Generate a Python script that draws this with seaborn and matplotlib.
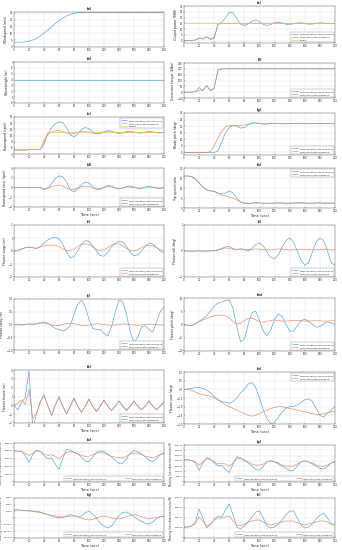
import matplotlib
matplotlib.use("Agg")
import matplotlib.pyplot as plt
import seaborn as sns

time = list(range(0, 205, 5))

# (a) wind / (b) wave
wind_speed = [3.5, 3.5, 3.5, 3.7, 4.2, 5.1, 6.4, 8.1, 10.1, 12.3, 14.6, 17.0, 19.2, 21.0, 22.6, 23.8,
              24.6, 25.0, 25.1, 25.1, 25.1, 25.1, 25.1, 25.1, 25.1, 25.1, 25.1, 25.1, 25.1, 25.1, 25.1,
              25.1, 25.1, 25.1, 25.1, 25.1, 25.1, 25.1, 25.1, 25.1, 25.1]
wave_height = [4.0] * 41

# (c) rotorspeed
rotor_without = [5.3, 5.3, 5.3, 5.3, 5.4, 5.4, 5.4, 5.5, 7.0, 10.5, 12.5, 13.8, 14.4, 14.2, 12.5, 10.2,
                 9.6, 10.5, 12.0, 12.6, 12.2, 11.2, 10.5, 10.6, 11.2, 11.6, 11.4, 10.9, 10.7, 10.9, 11.3,
                 11.4, 11.1, 10.8, 10.8, 11.1, 11.3, 11.2, 10.9, 10.8, 11.0]
rotor_with = [5.3, 5.3, 5.3, 5.3, 5.4, 5.4, 5.4, 5.5, 8.0, 10.2, 11.2, 11.5, 11.6, 11.3, 10.8, 10.5,
              10.6, 11.0, 11.3, 11.3, 11.1, 10.8, 10.7, 10.8, 11.0, 11.2, 11.1, 10.9, 10.8, 10.9, 11.1,
              11.1, 11.0, 10.9, 10.9, 11.0, 11.1, 11.0, 10.9, 10.9, 11.0]
rotor_target = [5.3, 5.3, 5.3, 5.3, 5.4, 5.4, 5.4, 5.5, 8.5, 11.0, 11.0, 11.0, 11.0, 11.0, 11.0, 11.0,
                11.0, 11.0, 11.0, 11.0, 11.0, 11.0, 11.0, 11.0, 11.0, 11.0, 11.0, 11.0, 11.0, 11.0, 11.0,
                11.0, 11.0, 11.0, 11.0, 11.0, 11.0, 11.0, 11.0, 11.0, 11.0]

# (d) rotorspeed error
err_without = [0, 0, 0, 0, 0, 0, 0, 0, -0.4, -0.2, 0.8, 1.8, 2.4, 2.2, 1.2, -0.5, -0.9, -0.3, 0.6, 1.1,
               0.9, 0.2, -0.4, -0.4, 0.1, 0.4, 0.3, -0.1, -0.3, -0.1, 0.2, 0.3, 0.1, -0.2, -0.2, 0.1,
               0.2, 0.1, -0.1, -0.2, 0]
err_with = [0, 0, 0, 0, 0, 0, 0, 0, -0.3, -0.1, 0.2, 0.4, 0.5, 0.3, -0.1, -0.4, -0.4, -0.1, 0.2, 0.3,
            0.2, -0.1, -0.3, -0.2, 0, 0.2, 0.1, -0.1, -0.2, -0.1, 0.1, 0.1, 0, -0.1, -0.1, 0, 0.1, 0,
            -0.1, -0.1, 0]

# (e) output power
power_without = [0.2, 0.2, 0.3, 0.6, 2.5, 1.5, 3.5, 1.0, 2.0, 14.0, 16.0, 20.0, 24.5, 24.0, 19.0, 14.5,
                 13.0, 14.5, 17.0, 18.0, 16.5, 14.0, 13.2, 14.0, 15.5, 16.0, 15.2, 14.2, 14.0, 14.6,
                 15.3, 15.4, 14.8, 14.3, 14.4, 15.0, 15.4, 15.2, 14.7, 14.6, 14.9]
power_with = [0.2, 0.2, 0.3, 0.5, 1.8, 1.5, 3.2, 1.5, 3.0, 14.0, 15.0, 15.0, 15.0, 15.0, 14.8, 14.6,
              14.5, 14.8, 15.1, 15.2, 15.0, 14.7, 14.6, 14.8, 15.1, 15.2, 15.0, 14.8, 14.8, 14.9, 15.1,
              15.1, 15.0, 14.9, 14.9, 15.0, 15.1, 15.0, 14.9, 14.9, 15.0]
power_target = [15.0] * 41

# (f) generator torque
torque_without = [0, 0, 1, 5, 40, 15, 60, 10, 30, 190, 200] + [200] * 30
torque_with = [0, 0, 1, 4, 18, 15, 55, 15, 40, 190, 200] + [200] * 30

# (g) blade pitch
pitch_without = [0, 0, 0, 0, 0, 0, 0, 0, 0, 1.0, 8.0, 15.0, 19.0, 20.5, 20.0, 18.5, 19.0, 21.0, 22.5,
                 22.5, 22.0, 21.5, 21.5, 22.0, 22.3, 22.2, 21.8, 21.7, 21.9, 22.2, 22.2, 22.0, 21.8,
                 21.8, 22.0, 22.2, 22.1, 21.9, 21.8, 22.0, 22.1]
pitch_with = [0, 0, 0, 0, 0, 0, 0, 0.5, 5.0, 11.0, 16.0, 19.5, 20.3, 20.5, 20.5, 20.6, 21.0, 21.6, 22.0,
              22.0, 21.9, 21.8, 21.8, 21.9, 22.0, 22.0, 21.9, 21.8, 21.9, 22.0, 22.0, 21.9, 21.9, 21.9,
              22.0, 22.0, 22.0, 21.9, 21.9, 22.0, 22.0]

# (h) tip speed ratio
tsr_without = [16.0, 16.0, 15.8, 14.5, 12.5, 10.5, 9.0, 8.5, 8.5, 7.5, 7.0, 7.5, 8.5, 7.5, 5.0, 3.0,
               2.3, 2.2, 2.5, 2.7, 2.6, 2.3, 2.2, 2.3, 2.5, 2.6, 2.5, 2.4, 2.4, 2.5, 2.6, 2.6, 2.5, 2.4,
               2.4, 2.5, 2.6, 2.5, 2.5, 2.4, 2.5]
tsr_with = [16.0, 16.0, 15.8, 14.5, 12.5, 10.5, 9.0, 8.5, 8.3, 7.2, 6.5, 6.0, 5.5, 4.8, 4.0, 3.0, 2.5,
            2.4, 2.4, 2.5, 2.5, 2.5, 2.4, 2.4, 2.5, 2.5, 2.5, 2.4, 2.4, 2.5, 2.5, 2.5, 2.4, 2.4, 2.5,
            2.5, 2.5, 2.4, 2.4, 2.5, 2.5]

# (i) floater surge
surge_without = [0, 0.05, 0.15, 0.25, 0.3, 0.25, 0.2, 0.35, 0.6, 0.85, 1.0, 1.05, 0.95, 0.5, -0.1, -0.5,
                 -0.45, 0, 0.5, 0.8, 0.75, 0.4, 0, -0.35, -0.4, -0.1, 0.3, 0.6, 0.75, 0.7, 0.35, -0.1,
                 -0.35, -0.3, 0, 0.35, 0.6, 0.55, 0.3, 0, -0.15]
surge_with = [0, 0.05, 0.15, 0.25, 0.3, 0.25, 0.2, 0.3, 0.4, 0.45, 0.45, 0.45, 0.35, 0.15, 0.05, 0.05,
              0.15, 0.35, 0.5, 0.55, 0.5, 0.3, 0.1, 0.05, 0.1, 0.25, 0.45, 0.55, 0.55, 0.4, 0.2, 0.05,
              0, 0.1, 0.25, 0.4, 0.45, 0.4, 0.25, 0.1, 0]

# (j) floater sway
sway_without = [0, 0, -0.02, 0, 0.02, 0, 0.03, 0.08, 0.1, 0.05, -0.05, -0.15, -0.2, -0.25, -0.2, -0.05,
                0.4, 0.8, 0.95, 0.7, 0.2, -0.15, -0.2, -0.2, -0.35, -0.45, -0.1, 0.5, 0.95, 0.9, 0.4,
                -0.3, -0.7, -0.5, -0.1, -0.05, -0.2, -0.3, 0.1, 0.5, 0.7]
sway_with = [0, 0, 0, 0.01, 0.02, 0.02, 0.03, 0.05, 0.06, 0.03, -0.02, -0.05, -0.04, 0, 0.04, 0.05,
             0.03, 0, -0.03, -0.04, -0.02, 0.01, 0.03, 0.02, 0, -0.02, -0.03, -0.02, 0, 0.02, 0.02, 0,
             -0.02, -0.03, -0.02, 0, 0.01, 0.01, -0.01, -0.02, -0.02]

# (k) floater heave
heave_without = [0, -0.5, 0.3, 0.9, 3.9, -2.6, -1.0, 0.4, 1.2, 0, -1.2, 0, 1.0, -0.1, -1.0, -0.1, 0.8,
                 -0.1, -0.8, -0.1, 0.7, -0.1, -0.7, -0.1, 0.6, -0.1, -0.6, -0.1, 0.5, -0.1, -0.6, -0.1,
                 0.5, -0.1, -0.5, -0.1, 0.5, -0.1, -0.5, -0.1, 0.4]
heave_with = [0, 0.2, 0.6, 0.1, 1.8, -1.5, -0.9, 0.4, 1.1, 0, -1.1, 0, 0.9, -0.1, -0.9, -0.1, 0.8, -0.1,
              -0.8, -0.1, 0.7, -0.1, -0.7, -0.1, 0.6, -0.1, -0.6, -0.1, 0.5, -0.1, -0.5, -0.1, 0.5,
              -0.1, -0.5, -0.1, 0.5, -0.1, -0.5, -0.1, 0.4]

# (l) floater roll
roll_without = [0, 0, -0.01, 0, 0.01, 0, 0, 0.01, 0.02, 0.05, 0.1, 0.16, 0.17, 0.1, 0.05, 0.08, 0.05, 0,
                0.1, 0.25, 0.3, 0.2, -0.05, -0.25, -0.3, -0.15, 0.15, 0.4, 0.5, 0.35, 0, -0.35, -0.55,
                -0.45, -0.05, 0.35, 0.5, 0.4, 0, -0.45, -0.55]
roll_with = [0, 0, 0, 0, 0, 0, 0, 0, 0, 0.03, 0.08, 0.12, 0.1, 0.06, 0.07, 0.08, 0.06, 0.05, 0.06,
             0.08, 0.07, 0.05, 0.04, 0.05, 0.07, 0.08, 0.07, 0.05, 0.04, 0.05, 0.06, 0.07, 0.06, 0.05,
             0.04, 0.05, 0.06, 0.06, 0.05, 0.04, 0.05]

# (m) floater pitch
fpitch_without = [0, -0.3, -0.5, 0.3, 1.2, 2.2, 3.2, 5.0, 7.0, 8.0, 8.5, 9.0, 9.3, 6.0, -1.0, -6.5,
                  -5.5, 0, 4.5, 5.0, 1.5, -2.5, -4.2, -2.0, 2.0, 4.0, 3.0, 0, -2.5, -2.5, -0.5, 1.5, 2.0,
                  1.2, 0, -1.0, -0.8, 0.3, 1.0, 0.6, 0]
fpitch_with = [0, -0.3, -0.4, 0.3, 1.0, 1.7, 2.2, 2.8, 3.3, 3.5, 3.5, 3.3, 2.5, 1.0, 0.2, 0.5, 1.5, 2.3,
               2.4, 1.8, 1.0, 0.8, 1.1, 1.6, 1.7, 1.5, 1.3, 1.3, 1.4, 1.5, 1.5, 1.4, 1.3, 1.3, 1.4, 1.4,
               1.4, 1.3, 1.3, 1.4, 1.4]

# (n) floater yaw
yaw_without = [0, 0.02, 0.05, 0.1, 0.1, 0.05, -0.05, -0.2, -0.4, -0.6, -0.7, -0.75, -0.8, -0.7, -0.5,
               -0.2, 0.0, 0.3, 0.4, 0.1, -0.5, -1.2, -1.7, -2.0, -1.9, -1.6, -1.3, -1.1, -1.0, -1.0,
               -0.9, -0.75, -0.6, -0.55, -0.7, -1.1, -1.5, -1.6, -1.4, -1.2, -1.0]
yaw_with = [0, 0, -0.05, -0.15, -0.25, -0.3, -0.35, -0.4, -0.5, -0.6, -0.75, -0.9, -1.0, -1.1, -1.2,
            -1.3, -1.4, -1.5, -1.55, -1.5, -1.4, -1.3, -1.2, -1.1, -1.05, -1.0, -1.0, -1.05, -1.1,
            -1.15, -1.2, -1.25, -1.3, -1.35, -1.4, -1.45, -1.45, -1.4, -1.35, -1.3, -1.25]

# (o) mooring line x-direction tension, (p), (q), (r)
moor_o_without = [4.0e5, 3.95e5, 3.9e5, 3.4e5, 2.5e5, 3.5e5, 4.1e5, 3.9e5, 3.4e5, 3.0e5, 3.1e5, 2.3e5,
                  1.6e5, 3.0e5, 4.2e5, 4.1e5, 3.8e5, 3.6e5, 3.2e5, 2.7e5, 2.6e5, 3.2e5, 3.8e5, 4.0e5,
                  3.9e5, 3.6e5, 3.2e5, 2.8e5, 2.4e5, 2.4e5, 3.0e5, 3.7e5, 4.0e5, 3.9e5, 3.6e5, 3.2e5,
                  2.8e5, 2.6e5, 3.0e5, 3.5e5, 3.8e5]
moor_o_with = [4.0e5, 3.95e5, 3.9e5, 3.7e5, 3.4e5, 3.7e5, 4.0e5, 3.9e5, 3.6e5, 3.4e5, 3.5e5, 3.3e5,
               3.0e5, 3.4e5, 3.8e5, 3.9e5, 3.8e5, 3.6e5, 3.4e5, 3.3e5, 3.3e5, 3.5e5, 3.7e5, 3.8e5,
               3.7e5, 3.5e5, 3.3e5, 3.2e5, 3.1e5, 3.1e5, 3.3e5, 3.6e5, 3.7e5, 3.7e5, 3.5e5, 3.3e5,
               3.2e5, 3.1e5, 3.3e5, 3.5e5, 3.6e5]
moor_q_without = [1.2e4, 1.2e4, 1.15e4, 1.1e4, 1.1e4, 1.05e4, 1.0e4, 0.9e4, 0.7e4, 0.5e4, 0.3e4,
                  0.1e4, 0.0, 0.1e4, 0.3e4, 0.5e4, 0.4e4, 0.2e4, 0.3e4, 0.8e4, 1.0e4, 0.6e4, 0.0,
                  -0.8e4, -1.2e4, -1.5e4, -1.2e4, -0.4e4, 0.4e4, 0.8e4, 0.9e4, 0.6e4, 0.2e4, -0.2e4,
                  -0.5e4, -0.8e4, -0.9e4, -0.6e4, -0.1e4, 0.2e4, 0.3e4]
moor_q_with = [1.2e4, 1.2e4, 1.15e4, 1.1e4, 1.05e4, 1.0e4, 0.9e4, 0.8e4, 0.7e4, 0.55e4, 0.4e4, 0.3e4,
               0.2e4, 0.15e4, 0.2e4, 0.3e4, 0.3e4, 0.2e4, 0.0, -0.2e4, -0.3e4, -0.2e4, 0.0, 0.2e4,
               0.3e4, 0.2e4, 0.0, -0.1e4, -0.1e4, 0.0, 0.2e4, 0.4e4, 0.5e4, 0.4e4, 0.2e4, 0.0, -0.1e4,
               0.0, 0.1e4, 0.2e4, 0.2e4]
moor_p_without = [2.1e5, 2.1e5, 2.05e5, 1.8e5, 1.1e5, 1.8e5, 2.3e5, 2.2e5, 1.8e5, 1.5e5, 1.6e5, 1.2e5,
                  0.9e5, 1.7e5, 2.4e5, 2.3e5, 2.0e5, 1.8e5, 1.5e5, 1.2e5, 1.1e5, 1.5e5, 1.9e5, 2.0e5,
                  1.9e5, 1.7e5, 1.5e5, 1.3e5, 1.1e5, 1.1e5, 1.5e5, 1.9e5, 2.0e5, 1.9e5, 1.7e5, 1.5e5,
                  1.3e5, 1.2e5, 1.5e5, 1.8e5, 1.9e5]
moor_p_with = [2.1e5, 2.1e5, 2.05e5, 1.9e5, 1.6e5, 1.9e5, 2.2e5, 2.1e5, 1.9e5, 1.7e5, 1.8e5, 1.7e5,
               1.5e5, 1.8e5, 2.2e5, 2.2e5, 2.1e5, 1.9e5, 1.7e5, 1.6e5, 1.6e5, 1.7e5, 1.9e5, 2.0e5,
               1.9e5, 1.8e5, 1.6e5, 1.5e5, 1.5e5, 1.5e5, 1.7e5, 1.9e5, 2.0e5, 1.9e5, 1.8e5, 1.6e5,
               1.5e5, 1.5e5, 1.6e5, 1.8e5, 1.9e5]
moor_r_without = [1.1e5, 1.1e5, 1.2e5, 1.6e5, 2.9e5, 2.0e5, 1.0e5, 1.3e5, 1.9e5, 2.2e5, 2.1e5, 2.8e5,
                  3.4e5, 2.3e5, 1.1e5, 0.9e5, 1.2e5, 1.6e5, 2.1e5, 2.6e5, 2.7e5, 2.0e5, 1.2e5, 1.0e5,
                  1.1e5, 1.4e5, 1.8e5, 2.3e5, 2.7e5, 2.7e5, 2.0e5, 1.3e5, 1.0e5, 1.1e5, 1.4e5, 1.9e5,
                  2.3e5, 2.5e5, 2.0e5, 1.4e5, 1.2e5]
moor_r_with = [1.1e5, 1.1e5, 1.2e5, 1.4e5, 2.1e5, 1.7e5, 1.2e5, 1.4e5, 1.8e5, 2.0e5, 2.0e5, 2.1e5,
               2.2e5, 1.7e5, 1.3e5, 1.2e5, 1.4e5, 1.6e5, 1.7e5, 1.8e5, 1.8e5, 1.6e5, 1.4e5, 1.3e5,
               1.4e5, 1.5e5, 1.6e5, 1.7e5, 1.7e5, 1.7e5, 1.5e5, 1.4e5, 1.3e5, 1.4e5, 1.5e5, 1.6e5,
               1.7e5, 1.7e5, 1.6e5, 1.4e5, 1.4e5]

lab_wo = 'Without pitch/rate feedback'
lab_w = 'With pitch/rate feedback'
blue, red, yellow = '#4ea3dc', '#e6875f', '#e9c05a'

sns.set_theme(style='whitegrid', rc={
    'axes.edgecolor': '#666666', 'axes.linewidth': 0.35, 'grid.color': '#e2e2e2',
    'grid.linewidth': 0.3, 'xtick.direction': 'in', 'ytick.direction': 'in',
    'xtick.major.size': 1.0, 'ytick.major.size': 1.0, 'xtick.major.width': 0.3,
    'ytick.major.width': 0.3, 'xtick.bottom': True, 'ytick.left': True,
    'xtick.major.pad': 0.8, 'ytick.major.pad': 0.8})
plt.rcParams['font.family'] = ['DejaVu Sans']

fig = plt.figure(figsize=(3.42, 5.50), dpi=100)

LX, LW = 14 / 342, 150 / 342
RX, RW = 184 / 342, 151 / 342


def rect(col, top, bot):
    x0, w = (LX, LW) if col == 0 else (RX, RW)
    return [x0, 1 - bot / 550, w, (bot - top) / 550]


def panel(pos, title, ylabel, lines, ylim, yticks, loc=None, ncol=1, xlabel=False, long_label=False):
    ax = fig.add_axes(pos)
    for vals, col, lab in lines:
        sns.lineplot(x=time, y=vals, ax=ax, color=col, linewidth=0.45, label=lab, legend=False)
    ax.set_xlim(0, 200)
    ax.set_xticks(range(0, 201, 20))
    ax.set_ylim(*ylim)
    ax.set_yticks(yticks)
    ax.tick_params(labelsize=1.9, colors='#333333')
    ax.tick_params(axis='y', labelsize=1.6 if long_label else 1.9)
    ax.set_title(title, fontsize=2.3, fontweight='bold', pad=1.5)
    if long_label:
        ax.set_ylabel(ylabel, fontsize=1.8)
        ax.yaxis.set_label_coords(-0.072, 0.5)
    else:
        ax.set_ylabel(ylabel, fontsize=2.3, labelpad=1.5)
    if xlabel:
        ax.set_xlabel('Time (sec)', fontsize=2.6, labelpad=0.8)
    if loc:
        leg = ax.legend(loc=loc, ncol=ncol, fontsize=1.7, handlelength=2.5, borderpad=0.5,
                        labelspacing=0.4, columnspacing=8, frameon=True, fancybox=False)
        leg.get_frame().set_linewidth(0.3)
        leg.get_frame().set_edgecolor('#777777')
    return ax


two = lambda a, b: [(a, blue, lab_wo), (b, red, lab_w)]

panel(rect(0, 12, 47), '(a)', 'Windspeed (m/s)', [(wind_speed, blue, None)], (0, 25.5), range(0, 26, 5))
panel(rect(0, 62, 103), '(b)', 'Waveheight (m)', [(wave_height, blue, None)], (0, 7), range(0, 8))
panel(rect(0, 117, 154), '(c)', 'Rotorspeed (rpm)',
      two(rotor_without, rotor_with) + [(rotor_target, yellow, 'Target')],
      (4, 16), range(4, 17, 2), loc='upper right')
panel(rect(0, 168, 207), '(d)', 'Rotorspeed error (rpm)', two(err_without, err_with),
      (-4, 4), range(-4, 5, 2), loc='lower right', xlabel=True)
panel(rect(0, 225, 277), '(i)', 'Floater surge (m)', two(surge_without, surge_with),
      (-2, 2), range(-2, 3), loc='lower right')
panel(rect(0, 299, 350), '(j)', 'Floater sway (m)', two(sway_without, sway_with),
      (-1, 1), [-1, -0.5, 0, 0.5, 1], loc='lower right')
panel(rect(0, 370, 423), '(k)', 'Floater heave (m)', two(heave_without, heave_with),
      (-2, 4), range(-2, 5), loc='lower right', xlabel=True)
panel(rect(0, 443, 482), '(o)', 'Mooring line x-direction tension (N)', two(moor_o_without, moor_o_with),
      (0, 5e5), range(0, 500001, 100000), loc='lower right', ncol=2, xlabel=True, long_label=True)
panel(rect(0, 498, 538), '(q)', 'Mooring line y-direction tension (N)', two(moor_q_without, moor_q_with),
      (-3e4, 3e4), range(-30000, 30001, 10000), loc='lower right', ncol=2, xlabel=True, long_label=True)

panel(rect(1, 6, 43), '(e)', 'Output power (MW)',
      two(power_without, power_with) + [(power_target, yellow, 'Target')],
      (-2, 30), range(0, 31, 5), loc='lower right')
panel(rect(1, 63, 98), '(f)', 'Generator torque (kNm)', two(torque_without, torque_with),
      (-50, 250), range(-50, 251, 50), loc='lower right')
panel(rect(1, 113, 155), '(g)', 'Blade pitch (deg)', two(pitch_without, pitch_with),
      (-2, 30), range(0, 31, 5), loc='lower right')
panel(rect(1, 168, 208), '(h)', 'Tip speed ratio', two(tsr_without, tsr_with),
      (0, 20), range(0, 21, 5), loc='upper right', xlabel=True)
panel(rect(1, 225, 277), '(l)', 'Floater roll (deg)', two(roll_without, roll_with),
      (-1, 1), [-1, 0, 1], loc='lower right')
panel(rect(1, 298, 351), '(m)', 'Floater pitch (deg)', two(fpitch_without, fpitch_with),
      (-10, 10), range(-10, 11, 5), loc='lower right')
panel(rect(1, 372, 424), '(n)', 'Floater yaw (deg)', two(yaw_without, yaw_with),
      (-2, 1), [-2, -1.5, -1, -0.5, 0, 0.5, 1], loc='upper right', xlabel=True)
panel(rect(1, 445, 482), '(p)', 'Mooring line x-direction tension (N)', two(moor_p_without, moor_p_with),
      (0, 3.5e5), range(0, 350001, 50000), loc='lower right', ncol=2, xlabel=True, long_label=True)
panel(rect(1, 498, 538), '(r)', 'Mooring line z-direction tension (N)', two(moor_r_without, moor_r_with),
      (0, 4e5), range(0, 400001, 100000), loc='lower right', ncol=2, xlabel=True, long_label=True)

fig.savefig('out.png', dpi=100)
